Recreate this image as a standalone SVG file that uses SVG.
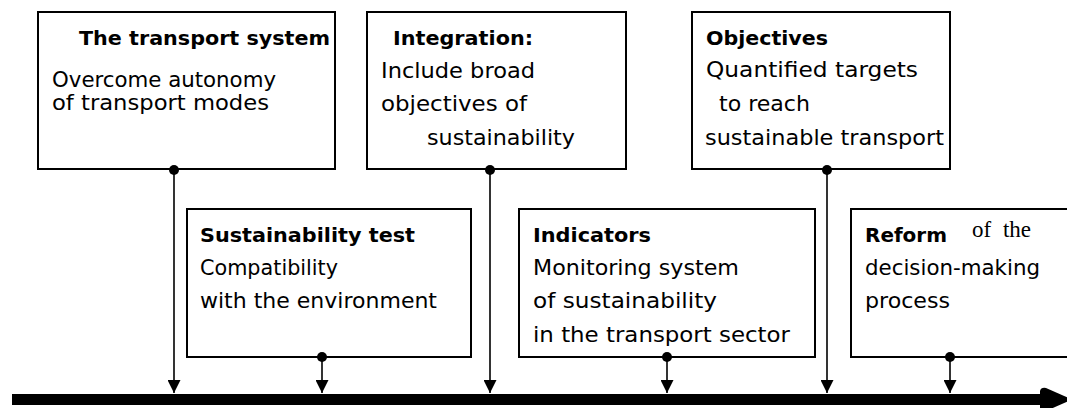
<svg xmlns="http://www.w3.org/2000/svg" width="1067" height="408" viewBox="0 0 1067 408">
  <style>
    .box { fill: #ffffff; stroke: #000000; stroke-width: 2; }
    .t { font-family: "DejaVu Sans", "Liberation Sans", sans-serif; font-size: 21px; fill: #000000; }
    .b { font-weight: bold; font-size: 20px; }
    .serif { font-family: "Liberation Serif", "DejaVu Serif", serif; font-size: 23px; word-spacing: 6px; }
    .link { stroke: #000000; stroke-width: 1.6; fill: none; }
    .dot { fill: #000000; }
  </style>
  <defs>
    <marker id="head" markerUnits="userSpaceOnUse" markerWidth="13" markerHeight="13" refX="13" refY="6.5" orient="auto">
      <path d="M0,0 L13,6.5 L0,13 Z" fill="#000000"/>
    </marker>
  </defs>

  <rect width="1067" height="408" fill="#ffffff"/>

  <!-- upper row -->
  <g id="transport-system">
    <rect class="box" x="38" y="12" width="297" height="157"/>
    <text class="t b" x="79" y="45" textLength="251" lengthAdjust="spacingAndGlyphs">The transport system</text>
    <text class="t" x="52" y="87" textLength="224" lengthAdjust="spacingAndGlyphs">Overcome autonomy</text>
    <text class="t" x="52" y="110" textLength="217" lengthAdjust="spacingAndGlyphs">of transport modes</text>
  </g>

  <g id="integration">
    <rect class="box" x="367" y="12" width="259" height="157"/>
    <text class="t b" x="393" y="45" textLength="140" lengthAdjust="spacingAndGlyphs">Integration:</text>
    <text class="t" x="381" y="78" textLength="154" lengthAdjust="spacingAndGlyphs">Include broad</text>
    <text class="t" x="381" y="111" textLength="146" lengthAdjust="spacingAndGlyphs">objectives of</text>
    <text class="t" x="427" y="145" textLength="148" lengthAdjust="spacingAndGlyphs">sustainability</text>
  </g>

  <g id="objectives">
    <rect class="box" x="692" y="12" width="258" height="157"/>
    <text class="t b" x="706" y="45" textLength="122" lengthAdjust="spacingAndGlyphs">Objectives</text>
    <text class="t" x="706" y="77" textLength="212" lengthAdjust="spacingAndGlyphs">Quantified targets</text>
    <text class="t" x="719" y="111" textLength="91" lengthAdjust="spacingAndGlyphs">to reach</text>
    <text class="t" x="705" y="145" textLength="239" lengthAdjust="spacingAndGlyphs">sustainable transport</text>
  </g>

  <!-- lower row -->
  <g id="sustainability-test">
    <rect class="box" x="187" y="209" width="284" height="148"/>
    <text class="t b" x="200" y="242" textLength="215" lengthAdjust="spacingAndGlyphs">Sustainability test</text>
    <text class="t" x="200" y="275" textLength="138" lengthAdjust="spacingAndGlyphs">Compatibility</text>
    <text class="t" x="200" y="308" textLength="237" lengthAdjust="spacingAndGlyphs">with the environment</text>
  </g>

  <g id="indicators">
    <rect class="box" x="519" y="209" width="296" height="148"/>
    <text class="t b" x="533" y="242" textLength="118" lengthAdjust="spacingAndGlyphs">Indicators</text>
    <text class="t" x="533" y="275" textLength="206" lengthAdjust="spacingAndGlyphs">Monitoring system</text>
    <text class="t" x="533" y="308" textLength="184" lengthAdjust="spacingAndGlyphs">of sustainability</text>
    <text class="t" x="533" y="342" textLength="257" lengthAdjust="spacingAndGlyphs">in the transport sector</text>
  </g>

  <g id="reform">
    <path class="box" d="M1067,209 L851,209 L851,357 L1067,357"/>
    <text class="t b" x="865" y="242" textLength="82" lengthAdjust="spacingAndGlyphs">Reform</text>
    <text class="serif" x="972" y="237">of the</text>
    <text class="t" x="865" y="275" textLength="175" lengthAdjust="spacingAndGlyphs">decision-making</text>
    <text class="t" x="865" y="308" textLength="85" lengthAdjust="spacingAndGlyphs">process</text>
  </g>

  <!-- links from each box down to the time axis -->
  <g id="connectors">
    <line class="link" x1="174" y1="169" x2="174" y2="393" marker-end="url(#head)"/>
    <line class="link" x1="490" y1="169" x2="490" y2="393" marker-end="url(#head)"/>
    <line class="link" x1="827" y1="169" x2="827" y2="393" marker-end="url(#head)"/>
    <line class="link" x1="322" y1="357" x2="322" y2="393" marker-end="url(#head)"/>
    <line class="link" x1="667" y1="357" x2="667" y2="393" marker-end="url(#head)"/>
    <line class="link" x1="950" y1="357" x2="950" y2="393" marker-end="url(#head)"/>
    <circle class="dot" cx="174" cy="170" r="5"/>
    <circle class="dot" cx="490" cy="170" r="5"/>
    <circle class="dot" cx="827" cy="170" r="5"/>
    <circle class="dot" cx="322" cy="357" r="5"/>
    <circle class="dot" cx="667" cy="357" r="5"/>
    <circle class="dot" cx="950" cy="357" r="5"/>
    <!-- time axis -->
    <rect x="12" y="394" width="1030" height="11" fill="#000000"/>
    <path d="M1040,391 Q1041,387 1046,388 L1072,399.5 L1046,411 Q1041,412 1040,408 Z" fill="#000000"/>
  </g>
</svg>
